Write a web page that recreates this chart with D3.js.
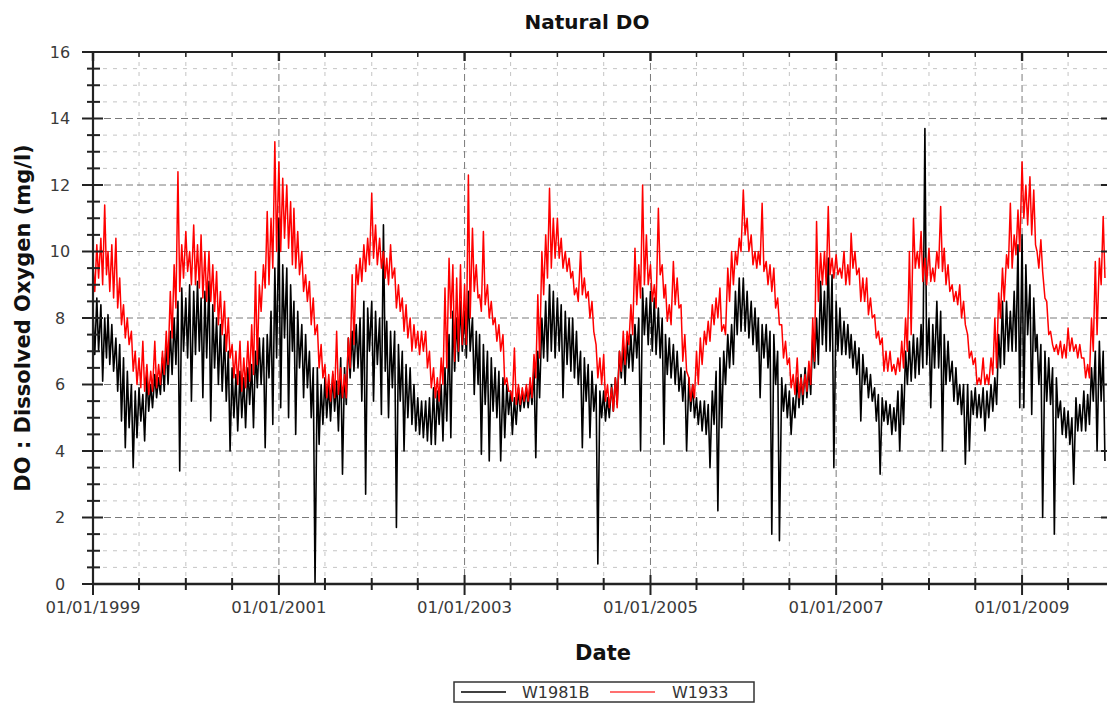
<!DOCTYPE html>
<html>
<head>
<meta charset="utf-8">
<script src="https://cdn.jsdelivr.net/npm/d3@7"></script>
<style>
  body { margin: 0; background: #fff; }
  svg { display: block; }
  text { font-family: "DejaVu Sans", Verdana, sans-serif; }
</style>
</head>
<body>
<svg id="chart" width="1107" height="704"></svg>
<script>
// ---------------- DATA ----------------
const chartTitle = "Natural DO";
const xAxisTitle = "Date";
const yAxisTitle = "DO : Dissolved Oxygen (mg/l)";
const seriesNames = ["W1981B", "W1933"];
const yTickValues = [0, 2, 4, 6, 8, 10, 12, 14, 16];
const xTickLabels = ["01/01/1999", "01/01/2001", "01/01/2003", "01/01/2005", "01/01/2007", "01/01/2009"];
const firstHalfMonth = "1999-01-01"; // values below: one per half month (1st and 16th), high and low of each half month

// W1981B (black) half-monthly maxima, one row per year
const w1981bHigh = [
  8.2,8.6, 8.4,8.0, 8.1,7.8, 7.4,7.2, 6.8,6.4, 6.0,5.8, 5.9,5.7, 6.3,6.0, 6.3,6.2, 6.8,7.3, 7.6,8.0, 8.5,8.9,
  8.6,9.0, 8.8,9.1, 8.6,8.8, 9.1,8.4, 8.0,7.8, 7.5,7.0, 6.5,6.3, 6.4,6.2, 6.5,6.6, 7.0,7.4, 7.4,7.5, 8.2,9.5,
  11.0,9.6, 9.5,9.0, 8.5,8.2, 7.8,7.5, 7.0,6.5, 6.5,6.0, 6.2,6.0, 6.3,6.1, 6.8,6.5, 7.4,7.6, 7.8,8.0, 8.5,8.3,
  8.5,8.2, 8.0,10.8, 7.9,7.6, 7.6,7.2, 7.0,6.6, 6.5,6.0, 5.6,5.5, 5.5,5.6, 5.9,5.8, 6.0,6.5, 7.5,8.2, 8.0,8.5,
  8.2,8.8, 8.0,7.6, 7.5,7.2, 7.0,6.8, 6.5,6.4, 6.2,6.0, 5.8,5.6, 5.9,5.8, 5.9,6.0, 6.5,7.0, 8.0,8.5, 9.0,8.8,
  8.6,8.4, 8.2,8.0, 8.0,7.6, 7.0,6.8, 6.6,6.4, 6.0,5.8, 5.8,5.6, 6.0,6.2, 7.0,7.2, 7.4,7.5, 7.8,8.0, 8.9,8.6,
  8.8,8.6, 8.3,8.0, 7.5,7.4, 7.2,7.0, 6.5,6.4, 6.2,6.0, 5.6,5.5, 5.5,5.4, 5.8,6.4, 6.8,7.0, 7.5,7.8, 8.8,9.2,
  9.2,8.8, 8.5,8.3, 8.0,7.8, 7.8,7.6, 7.5,7.0, 6.2,6.0, 5.8,5.6, 6.2,6.3, 6.5,6.5, 7.5,8.0, 9.1,8.8, 9.8,9.3,
  8.5,8.3, 7.9,7.8, 7.5,7.3, 7.1,6.9, 6.5,6.3, 5.9,5.7, 5.6,5.5, 5.4,5.3, 5.8,6.0, 7.0,7.3, 7.5,7.4, 7.8,13.7,
  8.0,7.8, 8.5,8.2, 7.5,7.3, 6.7,6.5, 6.0,6.0, 6.0,5.8, 5.9,5.7, 5.9,5.8, 6.0,6.2, 7.5,8.5, 8.5,8.2, 8.8,10.2,
  10.5,9.6, 9.0,8.6, 7.5,7.2, 7.0,6.8, 6.5,6.2, 5.5,5.3, 5.2,5.0, 5.6,5.4, 5.8,5.7, 6.5,7.0, 7.3,7.0
];
// W1981B (black) half-monthly minima
const w1981bLow = [
  6.9,7.0, 6.1,6.8, 6.6,6.4, 5.8,4.9, 4.1,4.7, 3.5,4.4, 4.9,4.3, 5.2,5.3, 5.6,5.7, 5.8,6.0, 6.3,6.6, 3.4,7.0,
  6.8,5.5, 6.9,7.0, 5.6,6.8, 4.9,6.5, 6.0,5.8, 5.5,4.0, 5.0,4.6, 5.0,4.7, 5.4,4.7, 5.9,6.0, 4.1,6.2, 4.8,6.8,
  5.3,7.4, 5.0,7.0, 4.5,6.5, 5.6,5.9, 5.0,0.0, 4.2,4.8, 5.0,4.9, 5.2,4.6, 3.3,5.4, 6.2,6.4, 6.5,5.5, 2.7,7.0,
  5.5,6.6, 5.1,6.4, 5.0,5.9, 1.7,5.5, 4.0,5.0, 4.8,4.6, 4.5,4.4, 4.3,4.2, 4.2,4.8, 4.3,4.9, 4.4,6.4, 6.7,7.0,
  6.8,7.0, 5.7,6.0, 3.9,5.4, 3.7,5.2, 5.0,3.7, 4.4,5.1, 4.5,4.8, 5.2,5.3, 5.3,5.4, 3.8,5.6, 6.8,6.7, 7.0,6.8,
  7.0,5.6, 6.6,6.4, 6.2,6.0, 4.1,5.5, 4.4,5.2, 0.6,5.0, 4.9,5.0, 5.2,5.4, 6.2,6.0, 6.5,6.4, 6.8,4.0, 7.5,7.2,
  7.0,6.9, 6.8,4.2, 6.3,6.2, 6.0,5.8, 5.5,4.0, 5.2,5.0, 4.8,4.6, 4.5,3.5, 4.8,2.2, 4.7,6.0, 6.5,6.6, 7.5,7.6,
  7.6,7.4, 7.2,7.0, 5.6,6.8, 6.5,1.5, 6.0,1.3, 5.2,5.0, 4.5,5.0, 5.3,5.4, 5.6,5.7, 6.5,6.6, 7.2,7.0, 7.0,3.5,
  7.0,6.9, 6.9,6.8, 6.5,6.3, 4.9,6.0, 5.6,5.5, 4.9,3.3, 4.9,4.8, 4.5,4.6, 4.0,4.8, 6.0,6.1, 6.2,6.3, 6.5,6.6,
  5.3,6.5, 6.5,4.0, 6.0,6.1, 5.5,5.4, 5.1,3.6, 4.0,5.1, 5.0,5.0, 4.6,5.0, 5.2,5.4, 6.5,6.6, 7.0,7.0, 7.0,5.3,
  5.3,7.5, 5.1,7.0, 6.0,2.0, 5.5,5.4, 1.5,5.0, 4.5,4.4, 4.2,3.0, 4.6,4.6, 4.6,4.8, 5.5,4.0, 5.5,3.7
];
// W1933 (red) half-monthly maxima
const w1933High = [
  9.6,10.2, 10.4,11.4, 10.0,10.2, 10.4,9.2, 8.4,8.0, 7.6,7.0, 6.8,7.3, 6.6,6.4, 7.3,6.6, 7.0,7.6, 8.8,9.6, 12.4,10.2,
  10.6,10.0, 10.8,10.2, 10.5,10.0, 10.0,9.6, 9.4,8.8, 8.5,8.0, 7.2,7.0, 7.3,6.8, 7.3,7.8, 9.4,9.0, 9.6,11.2, 11.0,13.3,
  12.7,12.2, 12.0,11.5, 11.3,10.6, 10.0,9.3, 9.1,8.6, 7.8,7.2, 6.6,6.3, 6.4,7.6, 6.5,6.3, 7.4,9.3, 9.6,9.8, 10.2,10.4,
  11.75,10.8, 10.4,10.0, 9.8,10.2, 9.5,9.0, 8.6,8.4, 8.0,7.8, 7.6,7.6, 7.6,7.0, 6.5,6.2, 6.8,8.9, 9.8,9.6, 9.2,9.6,
  9.0,12.3, 10.7,9.6, 8.7,10.6, 9.0,8.5, 8.0,7.8, 7.5,6.2, 5.8,7.1, 6.0,5.9, 6.0,6.2, 6.9,8.7, 10.0,10.5, 11.9,11.0,
  11.0,10.4, 10.0,9.8, 9.4,8.9, 10.0,9.2, 8.8,8.5, 7.2,6.8, 6.9,6.0, 5.9,6.2, 7.0,7.6, 7.6,8.4, 10.1,9.6, 12.0,10.5,
  9.6,9.0, 11.3,9.6, 9.0,8.4, 9.7,9.2, 8.4,7.5, 6.2,6.0, 7.0,7.4, 7.6,7.9, 8.4,8.6, 8.9,7.8, 9.5,10.0, 10.0,10.4,
  11.85,11.0, 10.5,10.0, 10.0,11.45, 9.7,9.6, 9.5,8.6, 7.8,7.3, 6.8,6.3, 6.8,6.2, 6.3,6.7, 8.0,10.9, 9.95,10.0, 11.35,9.8,
  9.9,9.5, 10.0,9.6, 10.55,10.0, 9.5,9.2, 9.2,8.6, 8.1,7.6, 7.4,7.0, 7.0,6.6, 6.8,7.3, 8.0,10.0, 11.0,10.0, 10.6,9.8,
  10.1,9.5, 10.0,11.35, 10.1,9.6, 9.0,8.8, 9.0,8.5, 7.5,7.0, 6.8,6.2, 6.8,6.3, 6.8,8.0, 8.75,9.5, 9.9,11.45, 10.5,11.25,
  12.7,12.0, 12.25,11.85, 10.0,10.35, 8.6,7.5, 7.2,7.2, 7.3,7.2, 7.7,7.4, 7.2,7.2, 6.8,6.6, 8.0,9.7, 9.8,11.05
];
// W1933 (red) half-monthly minima
const w1933Low = [
  8.8,9.2, 9.0,9.3, 8.8,8.6, 8.3,7.8, 7.4,7.2, 6.4,6.0, 5.9,5.8, 5.7,5.8, 5.9,6.0, 6.3,6.6, 7.4,8.3, 8.8,9.2,
  9.4,9.0, 9.0,8.9, 8.6,8.5, 8.5,8.2, 7.8,7.5, 7.0,6.8, 6.2,6.0, 5.8,5.9, 6.1,6.3, 6.6,8.2, 8.9,9.0, 9.5,10.0,
  10.0,10.4, 10.1,9.6, 9.5,9.3, 8.8,8.5, 7.8,7.5, 6.5,6.2, 5.6,5.5, 5.6,5.7, 5.6,5.6, 6.5,7.2, 9.0,9.1, 9.4,9.6,
  9.8,9.6, 9.5,9.2, 9.0,9.2, 8.3,8.2, 7.6,7.4, 7.0,7.1, 6.9,7.0, 6.5,5.9, 5.6,5.5, 6.0,6.5, 8.0,6.7, 7.0,7.2,
  7.2,8.0, 8.8,8.6, 8.2,8.4, 8.0,7.8, 7.3,7.0, 6.0,5.8, 5.5,5.4, 5.4,5.5, 5.5,5.6, 6.2,6.8, 8.7,9.2, 9.5,9.8,
  9.8,9.5, 9.4,9.2, 8.7,8.5, 8.7,8.6, 8.0,7.6, 6.2,6.0, 5.5,5.3, 5.2,5.3, 6.4,6.6, 7.2,7.5, 8.4,8.6, 9.0,9.0,
  8.5,8.3, 9.3,8.6, 7.9,7.8, 8.4,8.3, 6.7,6.4, 5.5,5.6, 6.0,6.6, 7.2,7.3, 7.8,8.0, 7.6,7.5, 8.5,9.0, 9.6,10.0,
  10.5,10.0, 9.6,9.5, 9.6,9.4, 9.0,8.8, 8.3,7.8, 6.8,6.6, 5.9,5.7, 5.6,5.7, 5.8,6.0, 6.7,8.5, 9.0,9.0, 9.3,9.2,
  9.3,9.2, 9.0,9.0, 9.5,9.3, 8.5,8.5, 8.1,8.0, 7.4,7.2, 6.4,6.4, 6.4,6.3, 6.4,6.5, 7.0,7.5, 9.5,9.5, 9.1,9.0,
  9.1,9.1, 9.5,9.4, 9.0,8.8, 8.5,8.4, 8.0,7.8, 6.8,6.6, 6.0,6.0, 6.0,6.0, 6.3,6.5, 8.0,8.5, 9.5,9.5, 9.9,10.0,
  11.0,10.8, 10.5,10.2, 9.5,9.4, 8.5,7.6, 7.0,6.9, 6.8,6.8, 7.0,7.0, 6.8,6.8, 6.2,6.2, 7.0,7.5, 9.0,9.2
];

// ---------------- CHART ----------------
const svg = d3.select("#chart");
const plot = { left: 93, right: 1107, top: 52, bottom: 584 };
const parse = d3.timeParse("%Y-%m-%d");
const t0 = parse(firstHalfMonth);

const x = d3.scaleTime()
  .domain([t0, new Date(2009, 11, 1)])
  .range([plot.left, plot.right]);
const y = d3.scaleLinear().domain([0, 16]).range([plot.bottom, plot.top]);

function halfStart(k) {
  const m = d3.timeMonth.offset(t0, Math.floor(k / 2));
  return k % 2 ? d3.timeDay.offset(m, 15) : m;
}
function buildPoints(hi, lo) {
  const pts = [];
  hi.forEach((v, k) => {
    const s = halfStart(k);
    pts.push({ date: s, v: v });
    pts.push({ date: d3.timeDay.offset(s, 7), v: lo[k] });
  });
  return pts;
}

// grid
const minorY = d3.range(0, 16.0001, 0.5).filter(v => !yTickValues.includes(v));
const allX = d3.timeMonth.every(6).range(t0, new Date(2010, 0, 2));
const majorX = xTickLabels.map(s => d3.timeParse("%d/%m/%Y")(s));
const isMajorX = d => majorX.some(m => +m === +d);
const minorX = allX.filter(d => !isMajorX(d));

const grid = svg.append("g");
grid.selectAll(".gyminor").data(minorY).join("line")
  .attr("x1", plot.left).attr("x2", plot.right + 2)
  .attr("y1", d => y(d)).attr("y2", d => y(d))
  .attr("stroke", "#c4c4c4").attr("stroke-width", 1).attr("stroke-dasharray", "4,6");
grid.selectAll(".gxminor").data(minorX).join("line")
  .attr("x1", d => x(d)).attr("x2", d => x(d))
  .attr("y1", plot.top).attr("y2", plot.bottom)
  .attr("stroke", "#c4c4c4").attr("stroke-width", 1).attr("stroke-dasharray", "4,6");
grid.selectAll(".gymajor").data(yTickValues.filter(v => v > 0 && v < 16)).join("line")
  .attr("x1", plot.left).attr("x2", plot.right + 2)
  .attr("y1", d => y(d)).attr("y2", d => y(d))
  .attr("stroke", "#7a7a7a").attr("stroke-width", 1).attr("stroke-dasharray", "7,4");
grid.selectAll(".gxmajor").data(majorX).join("line")
  .attr("x1", d => x(d)).attr("x2", d => x(d))
  .attr("y1", plot.top).attr("y2", plot.bottom)
  .attr("stroke", "#7a7a7a").attr("stroke-width", 1).attr("stroke-dasharray", "7,4");

// data
svg.append("clipPath").attr("id", "clip").append("rect")
  .attr("x", plot.left).attr("y", plot.top - 1)
  .attr("width", plot.right - plot.left + 2).attr("height", plot.bottom - plot.top + 1);
const line = d3.line().x(d => x(d.date)).y(d => y(d.v));
const dataG = svg.append("g").attr("clip-path", "url(#clip)");
dataG.append("path").datum(buildPoints(w1981bHigh, w1981bLow))
  .attr("d", line).attr("fill", "none").attr("stroke", "#000").attr("stroke-width", 1.6)
  .attr("stroke-linejoin", "round");
dataG.append("path").datum(buildPoints(w1933High, w1933Low))
  .attr("d", line).attr("fill", "none").attr("stroke", "#ff0000").attr("stroke-width", 1.5)
  .attr("stroke-linejoin", "round");

// frame & axes
const axisColor = "#222";
const ax = svg.append("g").attr("stroke", axisColor);
ax.append("line").attr("x1", plot.left).attr("x2", plot.left).attr("y1", plot.top).attr("y2", plot.bottom).attr("stroke-width", 2.2);
ax.append("line").attr("x1", plot.left).attr("x2", plot.right + 3).attr("y1", plot.bottom).attr("y2", plot.bottom).attr("stroke-width", 2.6);
ax.append("line").attr("x1", plot.left).attr("x2", plot.right + 3).attr("y1", plot.top).attr("y2", plot.top).attr("stroke-width", 2.2);
ax.append("line").attr("x1", plot.right + 2).attr("x2", plot.right + 2).attr("y1", plot.top).attr("y2", plot.bottom).attr("stroke-width", 2);

// left ticks
ax.selectAll(".ymaj").data(yTickValues).join("line")
  .attr("x1", plot.left - 11).attr("x2", plot.left + 10)
  .attr("y1", d => y(d)).attr("y2", d => y(d)).attr("stroke-width", 2);
ax.selectAll(".ymin").data(minorY).join("line")
  .attr("x1", plot.left - 6).attr("x2", plot.left + 7)
  .attr("y1", d => y(d)).attr("y2", d => y(d)).attr("stroke-width", 2);
// right ticks
ax.selectAll(".yr").data(yTickValues).join("line")
  .attr("x1", plot.right - 6).attr("x2", plot.right + 2)
  .attr("y1", d => y(d)).attr("y2", d => y(d)).attr("stroke-width", 2);
// bottom ticks
ax.selectAll(".xmaj").data(majorX).join("line")
  .attr("x1", d => x(d)).attr("x2", d => x(d))
  .attr("y1", plot.bottom - 9).attr("y2", plot.bottom + 11).attr("stroke-width", 2);
ax.selectAll(".xmin").data(minorX).join("line")
  .attr("x1", d => x(d)).attr("x2", d => x(d))
  .attr("y1", plot.bottom - 6).attr("y2", plot.bottom + 6).attr("stroke-width", 2);
// top ticks
ax.selectAll(".xtmaj").data(majorX).join("line")
  .attr("x1", d => x(d)).attr("x2", d => x(d))
  .attr("y1", plot.top).attr("y2", plot.top + 9).attr("stroke-width", 2.4);
ax.selectAll(".xtmin").data(minorX).join("line")
  .attr("x1", d => x(d)).attr("x2", d => x(d))
  .attr("y1", plot.top).attr("y2", plot.top + 5).attr("stroke-width", 1.5);

// tick labels
svg.append("g").selectAll("text").data(yTickValues).join("text")
  .attr("x", 60).attr("y", d => y(d)).attr("dy", "0.36em")
  .attr("text-anchor", "middle").attr("font-size", "16px").attr("fill", "#3a3a3a")
  .text(d => d);
svg.append("g").selectAll("text").data(majorX).join("text")
  .attr("x", d => x(d)).attr("y", 613)
  .attr("text-anchor", "middle").attr("font-size", "16.5px").attr("fill", "#3a3a3a")
  .text((d, i) => xTickLabels[i]);

// titles
svg.append("text").attr("x", 587).attr("y", 29).attr("text-anchor", "middle")
  .attr("font-size", "20px").attr("font-weight", "bold").attr("fill", "#111").text(chartTitle);
svg.append("text").attr("x", 603).attr("y", 660).attr("text-anchor", "middle")
  .attr("font-size", "21px").attr("font-weight", "bold").attr("fill", "#111").text(xAxisTitle);
svg.append("text").attr("transform", "translate(30,318) rotate(-90)").attr("text-anchor", "middle")
  .attr("font-size", "21px").attr("font-weight", "bold").attr("fill", "#111").text(yAxisTitle);

// legend
const lg = svg.append("g");
lg.append("rect").attr("x", 454).attr("y", 682).attr("width", 300).attr("height", 20)
  .attr("fill", "#fff").attr("stroke", "#333").attr("stroke-width", 1.5);
const legendColors = ["#000", "#ff4040"];
const legendLineX = [461, 610];
const legendTextX = [522, 672];
seriesNames.forEach((name, i) => {
  lg.append("line").attr("x1", legendLineX[i]).attr("x2", legendLineX[i] + 45)
    .attr("y1", 692).attr("y2", 692).attr("stroke", legendColors[i]).attr("stroke-width", 1.3);
  lg.append("text").attr("x", legendTextX[i]).attr("y", 698)
    .attr("font-size", "16px").attr("fill", "#333").text(name);
});
</script>
</body>
</html>
